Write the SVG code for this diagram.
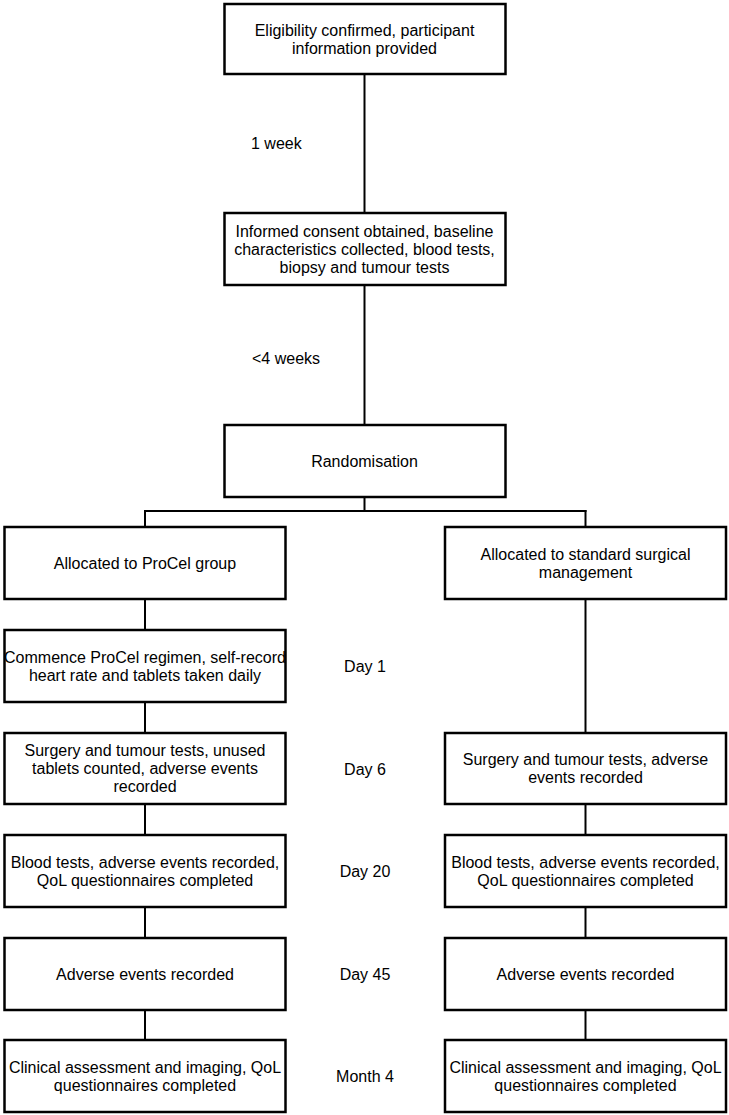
<svg xmlns="http://www.w3.org/2000/svg" width="729" height="1115" viewBox="0 0 729 1115">
<style>
rect.box{fill:#fff;stroke:#000;stroke-width:2.5}
.t{font-family:"Liberation Sans",Arial,sans-serif;font-size:16px;fill:#000;text-anchor:middle}
.l{font-family:"Liberation Sans",Arial,sans-serif;font-size:16px;fill:#000}
#connectors line{stroke:#000;stroke-width:2;stroke-linecap:square}
</style>
<rect width="729" height="1115" fill="#fff"/>
<g id="connectors">
<line x1="364.5" y1="74" x2="364.5" y2="213"/>
<line x1="364.5" y1="285" x2="364.5" y2="425"/>
<line x1="364.5" y1="497" x2="364.5" y2="511"/>
<line x1="145" y1="511" x2="585.5" y2="511"/>
<line x1="145" y1="511" x2="145" y2="527"/>
<line x1="585.5" y1="511" x2="585.5" y2="527"/>
<line x1="145" y1="599" x2="145" y2="630"/>
<line x1="145" y1="702" x2="145" y2="733"/>
<line x1="145" y1="804" x2="145" y2="835"/>
<line x1="145" y1="907" x2="145" y2="938"/>
<line x1="145" y1="1010" x2="145" y2="1040"/>
<line x1="585.5" y1="599" x2="585.5" y2="733"/>
<line x1="585.5" y1="804" x2="585.5" y2="835"/>
<line x1="585.5" y1="907" x2="585.5" y2="938"/>
<line x1="585.5" y1="1010" x2="585.5" y2="1040"/>
</g>
<g id="n1"><rect class="box" x="224.5" y="4" width="281" height="70"/>
<text class="t" x="364.5" y="35.5">Eligibility confirmed, participant</text>
<text class="t" x="364.5" y="53.5">information provided</text></g>
<g id="lbl1"><text class="l" x="251" y="149">1 week</text></g>
<g id="n2"><rect class="box" x="224.5" y="213" width="281" height="72"/>
<text class="t" x="364.5" y="236.5">Informed consent obtained, baseline</text>
<text class="t" x="364.5" y="254.5">characteristics collected, blood tests,</text>
<text class="t" x="364.5" y="272.5">biopsy and tumour tests</text></g>
<g id="lbl2"><text class="l" x="252" y="364">&lt;4 weeks</text></g>
<g id="n3"><rect class="box" x="224.5" y="425" width="281" height="72"/>
<text class="t" x="364.5" y="466.5">Randomisation</text></g>
<g id="nL1"><rect class="box" x="4.5" y="527" width="281" height="72"/>
<text class="t" x="145" y="568.5">Allocated to ProCel group</text></g>
<g id="nR1"><rect class="box" x="445" y="527" width="281" height="72"/>
<text class="t" x="585.5" y="559.5">Allocated to standard surgical</text>
<text class="t" x="585.5" y="577.5">management</text></g>
<g id="nL2"><rect class="box" x="4.5" y="630" width="281" height="72"/>
<text class="t" x="145" y="662.5">Commence ProCel regimen, self-record</text>
<text class="t" x="145" y="680.5">heart rate and tablets taken daily</text></g>
<g id="d1"><text class="t" x="365" y="671.5">Day 1</text></g>
<g id="nL3"><rect class="box" x="4.5" y="733" width="281" height="71"/>
<text class="t" x="145" y="756">Surgery and tumour tests, unused</text>
<text class="t" x="145" y="774">tablets counted, adverse events</text>
<text class="t" x="145" y="792">recorded</text></g>
<g id="nR3"><rect class="box" x="445" y="733" width="281" height="71"/>
<text class="t" x="585.5" y="765">Surgery and tumour tests, adverse</text>
<text class="t" x="585.5" y="783">events recorded</text></g>
<g id="d6"><text class="t" x="365" y="774.5">Day 6</text></g>
<g id="nL4"><rect class="box" x="4.5" y="835" width="281" height="72"/>
<text class="t" x="145" y="867.5">Blood tests, adverse events recorded,</text>
<text class="t" x="145" y="885.5">QoL questionnaires completed</text></g>
<g id="nR4"><rect class="box" x="445" y="835" width="281" height="72"/>
<text class="t" x="585.5" y="867.5">Blood tests, adverse events recorded,</text>
<text class="t" x="585.5" y="885.5">QoL questionnaires completed</text></g>
<g id="d20"><text class="t" x="365" y="876.5">Day 20</text></g>
<g id="nL5"><rect class="box" x="4.5" y="938" width="281" height="72"/>
<text class="t" x="145" y="979.5">Adverse events recorded</text></g>
<g id="nR5"><rect class="box" x="445" y="938" width="281" height="72"/>
<text class="t" x="585.5" y="979.5">Adverse events recorded</text></g>
<g id="d45"><text class="t" x="365" y="979.5">Day 45</text></g>
<g id="nL6"><rect class="box" x="4.5" y="1040" width="281" height="72"/>
<text class="t" x="145" y="1072.5">Clinical assessment and imaging, QoL</text>
<text class="t" x="145" y="1090.5">questionnaires completed</text></g>
<g id="nR6"><rect class="box" x="445" y="1040" width="281" height="72"/>
<text class="t" x="585.5" y="1072.5">Clinical assessment and imaging, QoL</text>
<text class="t" x="585.5" y="1090.5">questionnaires completed</text></g>
<g id="m4"><text class="t" x="365" y="1081.5">Month 4</text></g>
</svg>
